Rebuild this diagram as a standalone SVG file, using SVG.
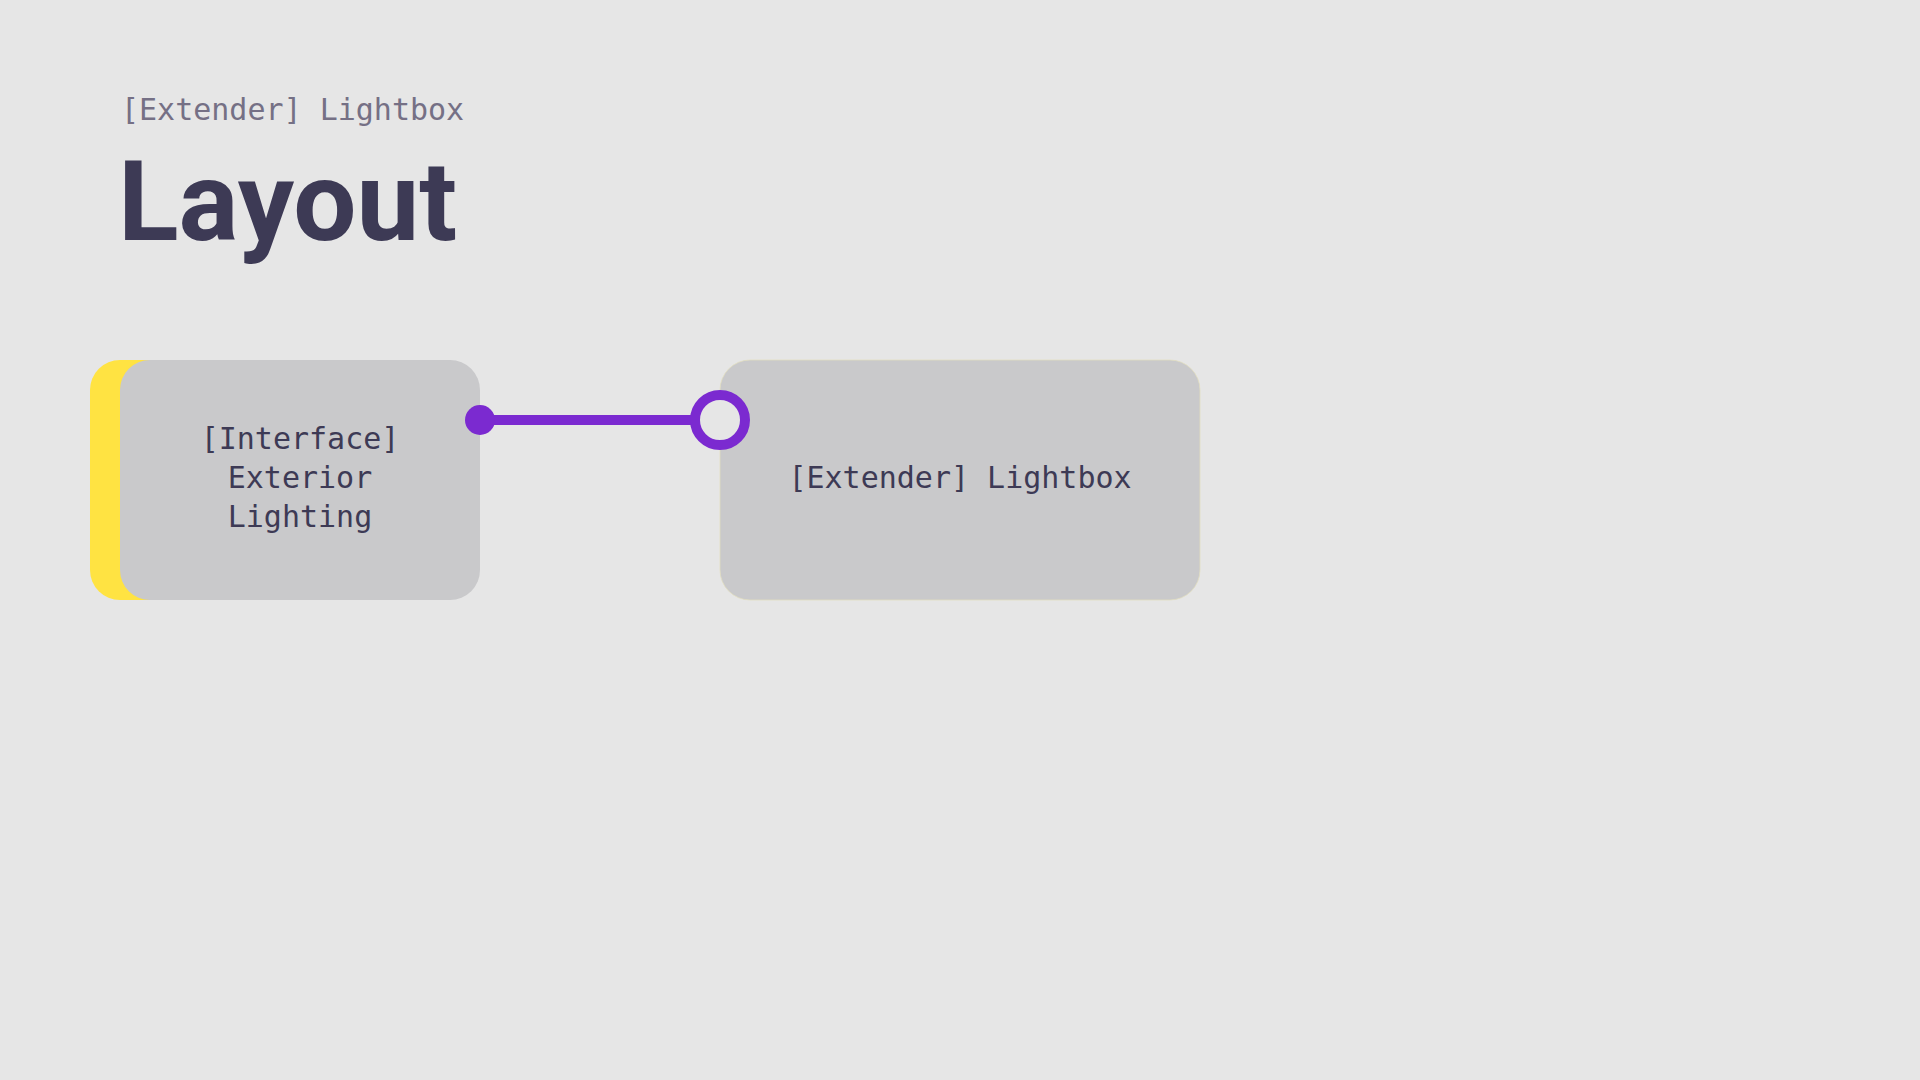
<svg xmlns="http://www.w3.org/2000/svg" width="1920" height="1080" viewBox="0 0 1920 1080">
  <style>
    .bg { fill: #e6e6e6; }
    .node { fill: #c9c9cb; }
    .accent { fill: #ffe342; }
    .label { font-family: "DejaVu Sans Mono", "Liberation Mono", monospace; font-size: 30px; fill: #3d3a55; text-anchor: middle; }
    .kicker { font-family: "DejaVu Sans Mono", "Liberation Mono", monospace; font-size: 30px; fill: #757085; }
    .title { font-family: Roboto, "Liberation Sans", sans-serif; font-weight: 700; font-size: 112px; fill: #3d3a55; }
    .wire { stroke: #7b2ad0; stroke-width: 10; fill: none; }
    .dot { fill: #7b2ad0; }
    .ring { fill: #e6e6e6; stroke: #7b2ad0; stroke-width: 10; }
  </style>
  <rect class="bg" x="0" y="0" width="1920" height="1080"/>

  <!-- heading -->
  <text class="kicker" x="121" y="120">[Extender] Lightbox</text>
  <text class="title" x="118" y="240">Layout</text>

  <!-- interface node with accent strip -->
  <g id="node-interface">
    <rect class="accent" x="90" y="360" width="200" height="240" rx="30" ry="30"/>
    <rect class="node" x="120" y="360" width="360" height="240" rx="30" ry="30"/>
    <text class="label" x="300" y="449">[Interface]</text>
    <text class="label" x="300" y="488">Exterior</text>
    <text class="label" x="300" y="527">Lighting</text>
  </g>

  <!-- extender node -->
  <g id="node-extender">
    <rect class="node" x="720" y="360" width="480" height="240" rx="30" ry="30" stroke="#e3dfbf" stroke-width="0.75"/>
    <text class="label" x="960" y="488">[Extender] Lightbox</text>
  </g>

  <!-- connectors -->
  <g id="connectors">
    <line class="wire" x1="480" y1="420" x2="695" y2="420"/>
    <circle class="dot" cx="480" cy="420" r="15"/>
    <circle class="ring" cx="720" cy="420" r="25"/>
  </g>
</svg>
